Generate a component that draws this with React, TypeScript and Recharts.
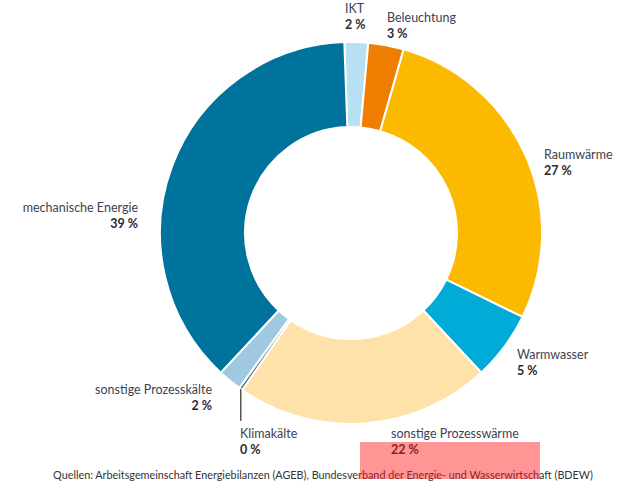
import { PieChart, Pie, Cell } from 'recharts';

const NAMES = [
  'IKT',
  'Beleuchtung',
  'Raumwärme',
  'Warmwasser',
  'sonstige Prozesswärme',
  'Klimakälte',
  'sonstige Prozesskälte',
  'mechanische Energie',
];
const VALUES = [2, 3, 27.8, 5.8, 21.6, 0.3, 2, 37.5];
const PCT_LABELS = ['2 %', '3 %', '27 %', '5 %', '22 %', '0 %', '2 %', '39 %'];
const COLORS = ['#b8e0f4', '#ef7d00', '#fbb900', '#00acd7', '#fee2a9', '#56687e', '#9fc9e0', '#00739d'];

// where each label's text sits
const LABEL_POS: Record<string, { x: number; y: number; anchor: 'start' | 'end' }> = {
  'IKT': { x: 345, y: 13, anchor: 'start' },
  'Beleuchtung': { x: 387, y: 22, anchor: 'start' },
  'Raumwärme': { x: 544, y: 159, anchor: 'start' },
  'Warmwasser': { x: 517, y: 359, anchor: 'start' },
  'sonstige Prozesswärme': { x: 391, y: 438, anchor: 'start' },
  'Klimakälte': { x: 240, y: 438, anchor: 'start' },
  'sonstige Prozesskälte': { x: 212, y: 394, anchor: 'end' },
  'mechanische Energie': { x: 138, y: 212, anchor: 'end' },
};

const data = NAMES.map((name, i) => ({ name, value: VALUES[i], pct: PCT_LABELS[i] }));

const FONT = 'Lato, "Open Sans", sans-serif';

const renderLabel = (props: any) => {
  const pos = LABEL_POS[props.name];
  if (!pos) return null;
  return (
    <g>
      <text x={pos.x} y={pos.y} textAnchor={pos.anchor} fontSize={12.5} fill="#3e3f52" fontFamily={FONT}>
        {props.name}
      </text>
      <text x={pos.x} y={pos.y + 16} textAnchor={pos.anchor} fontSize={12.5} fontWeight={700} fill="#2a2a33" fontFamily={FONT}>
        {props.payload.pct}
      </text>
    </g>
  );
};

const renderLine = (props: any) => {
  if (props.name !== 'Klimakälte') return <g />;
  const { cx, cy, outerRadius, midAngle } = props;
  const rad = (Math.PI / 180) * midAngle;
  const x = cx + outerRadius * Math.cos(rad);
  const y = cy - outerRadius * Math.sin(rad);
  return <path d={`M${x},${y} L${x},${y + 32}`} stroke="#555" strokeWidth={1.5} fill="none" />;
};

export default function App() {
  return (
    <div style={{ position: 'absolute', left: 0, top: 0, width: 627, height: 486, background: '#fff' }}>
      <PieChart width={627} height={486} margin={{ top: 0, right: 0, bottom: 0, left: 0 }}>
        <Pie
          data={data}
          dataKey="value"
          nameKey="name"
          cx={351}
          cy={233}
          innerRadius={106}
          outerRadius={191}
          startAngle={92}
          endAngle={-268}
          stroke="#fff"
          strokeWidth={2}
          label={renderLabel}
          labelLine={renderLine}
          isAnimationActive={false}
        >
          {data.map((d, i) => (
            <Cell key={d.name} fill={COLORS[i]} />
          ))}
        </Pie>
      </PieChart>
      <div
        style={{
          position: 'absolute',
          left: 0,
          width: 646,
          top: 468,
          textAlign: 'center',
          fontFamily: FONT,
          fontSize: 10.8,
          color: '#333',
          whiteSpace: 'nowrap',
        }}
      >
        Quellen: Arbeitsgemeinschaft Energiebilanzen (AGEB), Bundesverband der Energie- und Wasserwirtschaft (BDEW)
      </div>
      <div
        style={{
          position: 'absolute',
          left: 360,
          top: 442,
          width: 180,
          height: 37,
          background: 'rgba(255,20,20,0.45)',
        }}
      />
    </div>
  );
}
